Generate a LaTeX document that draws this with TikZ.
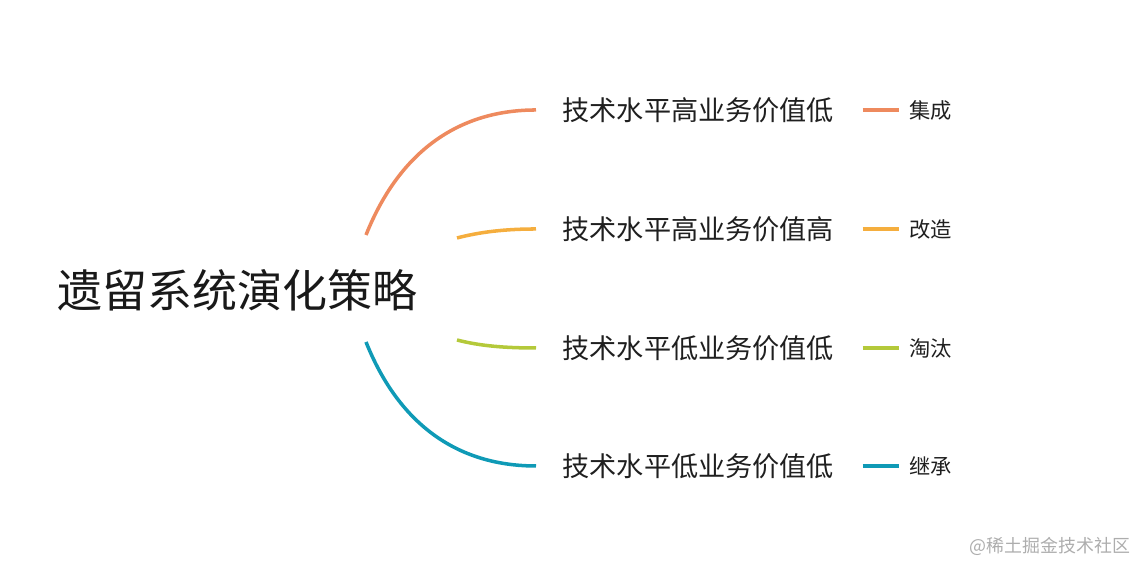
\documentclass[tikz,border=0pt]{standalone}
\usepackage{fontspec}
\setmainfont{Noto Sans CJK SC}
\usetikzlibrary{positioning}

\definecolor{cOrange}{HTML}{EE8A5E}
\definecolor{cYellow}{HTML}{F5AE3E}
\definecolor{cGreen}{HTML}{B4C93A}
\definecolor{cBlue}{HTML}{0F9AB6}

\tikzset{
	branch/.style={anchor=west, inner sep=0pt, text=black!88, font=\fontsize{7.72}{9}\selectfont},
	leaf/.style={anchor=west, inner sep=0pt, text=black!88, font=\fontsize{6.05}{7}\selectfont},
	curve/.style={line width=1pt},
	legend/.style={line width=0.95pt}
}

\begin{document}
\begin{tikzpicture}
	\useasboundingbox (0,0) rectangle (11.48,5.73);

	%root
	\node (root) [anchor=west, inner sep=0pt, text=black!90, font=\fontsize{12.8}{15}\selectfont] at (0.57,2.83) {遗留系统演化策略};

	%branches
	\node (b1) [branch] at (5.62,4.63) {技术水平高业务价值低};
	\node (b2) [branch] at (5.62,3.44) {技术水平高业务价值高};
	\node (b3) [branch] at (5.62,2.25) {技术水平低业务价值低};
	\node (b4) [branch] at (5.62,1.07) {技术水平低业务价值低};

	%leaves
	\node (l1) [leaf, right=0.74cm of b1] {集成};
	\node (l2) [leaf, right=0.74cm of b2] {改造};
	\node (l3) [leaf, right=0.74cm of b3] {淘汰};
	\node (l4) [leaf, right=0.74cm of b4] {继承};

	%curve starts
	\coordinate (s1) at (3.66,3.38);
	\coordinate (s2) at (4.57,3.35);
	\coordinate (s3) at (4.57,2.33);
	\coordinate (s4) at (3.66,2.31);

	%curves
	\draw[curve, cOrange] (s1) .. controls (4.00,4.23) and (4.60,4.63) .. ([xshift=-0.26cm]b1.west);
	\draw[curve, cYellow] (s2) .. controls (4.80,3.41) and (5.05,3.44) .. ([xshift=-0.26cm]b2.west);
	\draw[curve, cGreen] (s3) .. controls (4.80,2.27) and (5.05,2.25) .. ([xshift=-0.26cm]b3.west);
	\draw[curve, cBlue] (s4) .. controls (4.00,1.46) and (4.60,1.07) .. ([xshift=-0.26cm]b4.west);

	%legend lines
	\draw[legend, cOrange] ([xshift=-0.46cm]l1.west) -- ([xshift=-0.10cm]l1.west);
	\draw[legend, cYellow] ([xshift=-0.46cm]l2.west) -- ([xshift=-0.10cm]l2.west);
	\draw[legend, cGreen] ([xshift=-0.46cm]l3.west) -- ([xshift=-0.10cm]l3.west);
	\draw[legend, cBlue] ([xshift=-0.46cm]l4.west) -- ([xshift=-0.10cm]l4.west);

	%watermark
	\node (mark) [anchor=east, inner sep=0pt, text=black!32, font=\fontsize{5.1}{6}\selectfont] at (11.31,0.27) {@稀土掘金技术社区};
\end{tikzpicture}
\end{document}
